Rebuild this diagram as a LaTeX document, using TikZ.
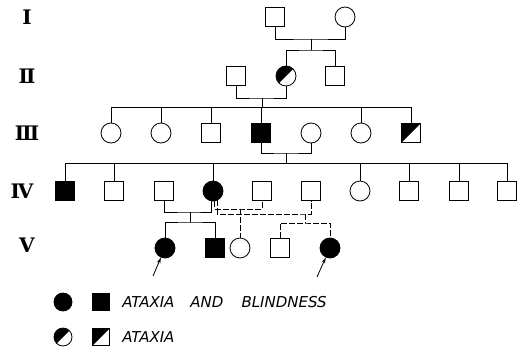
\documentclass[tikz,border=0pt]{standalone}
\usepackage{fontspec}
\newfontfamily\legfont{DejaVu Sans}
\newfontfamily\romfont{DejaVu Serif}
\usetikzlibrary{arrows.meta}
\tikzset{
  male/.style={draw,rectangle,minimum size=19pt,inner sep=0pt},
  female/.style={draw,circle,minimum size=20pt,inner sep=0pt},
  sick/.style={fill=black},
  half/.style={path picture={\fill[black] (path picture bounding box.south west) -- (path picture bounding box.north west) -- (path picture bounding box.north east) -- cycle;}},
  gen/.style={font=\romfont\bfseries\fontsize{20pt}{20pt}\selectfont},
  other/.style={dash pattern=on 6pt off 2pt},
  legtext/.style={font=\legfont\itshape\fontsize{15pt}{15pt}\selectfont,anchor=west,inner sep=0pt}
}
\begin{document}
\begin{tikzpicture}[x=1pt,y=-1pt,line width=0.8pt]
  \useasboundingbox (0,0) rectangle (527,354);
  %geracoes
  \node[gen] (gI) at (27,17) {Ⅰ};
  \node[gen] (gII) at (27,76) {Ⅱ};
  \node[gen] (gIII) at (27,133) {Ⅲ};
  \node[gen] (gIV) at (22,191) {Ⅳ};
  \node[gen] (gV) at (27,245) {Ⅴ};

  %geracao I
  \node[male] (I1) at (275,17) {};
  \node[female] (I2) at (345,17) {};
  \coordinate (mI) at (311,39);
  \coordinate (sI) at (311,50);
  \draw (I1.south) |- (mI) -| (I2.south);
  \draw (mI) -- (sI);

  %geracao II
  \node[male] (II1) at (236,76) {};
  \node[female,half] (II2) at (286,76) {};
  \node[male] (II3) at (335,76) {};
  \draw (II2.north) |- (sI) -| (II3.north);
  \coordinate (mII) at (262,98);
  \coordinate (sII) at (262,107);
  \draw (II1.south) |- (mII) -| (II2.south);
  \draw (mII) -- (sII);

  %geracao III
  \node[female] (III1) at (111,133) {};
  \node[female] (III2) at (161,133) {};
  \node[male] (III3) at (211,133) {};
  \node[male,sick] (III4) at (261,133) {};
  \node[female] (III5) at (311,133) {};
  \node[female] (III6) at (361,133) {};
  \node[male,half] (III7) at (411,133) {};
  \draw (III1.north |- sII) -- (III7.north |- sII);
  \foreach \k in {1,2,3,4,6,7}
    \draw (III\k.north) -- (III\k.north |- sII);
  \coordinate (mIII) at (286,153);
  \coordinate (sIII) at (286,163);
  \draw (III4.south) |- (mIII) -| (III5.south);
  \draw (mIII) -- (sIII);

  %geracao IV
  \node[male,sick] (IV1) at (65,191) {};
  \node[male] (IV2) at (114,191) {};
  \node[male] (IV3) at (164,191) {};
  \node[female,sick] (IV4) at (213,191) {};
  \node[male] (IV5) at (262,191) {};
  \node[male] (IV6) at (311,191) {};
  \node[female] (IV7) at (360,191) {};
  \node[male] (IV8) at (409,191) {};
  \node[male] (IV9) at (459,191) {};
  \node[male] (IV10) at (507,191) {};
  \draw (IV1.north |- sIII) -- (IV10.north |- sIII);
  \foreach \k in {1,2,4,7,8,9,10}
    \draw (IV\k.north) -- (IV\k.north |- sIII);

  %geracao V
  \node[female,sick] (V1) at (165,248) {};
  \node[male,sick] (V2) at (215,248) {};
  \node[female] (V3) at (240,248) {};
  \node[male] (V4) at (280,248) {};
  \node[female,sick] (V5) at (330,248) {};

  %casamentos de IV4
  \coordinate (mIVa) at (190,212);
  \coordinate (sIVa) at (190,222);
  \draw (IV3.south) |- (mIVa) -| (IV4.-100);
  \draw (mIVa) -- (sIVa);
  \draw (V1.north) |- (sIVa) -| (V2.north);

  \coordinate (mIVb) at (240,209);
  \draw[other] (IV4.-80) |- (mIVb) -| (IV5.south);
  \draw[other] (mIVb) -- (V3.north);

  \coordinate (mIVc) at (305,214);
  \coordinate (sIVc) at (305,223);
  \draw[other] (IV4.-65) |- (mIVc) -| (IV6.south);
  \draw[other] (mIVc) -- (sIVc);
  \draw[other] (V4.north) |- (sIVc) -| (V5.north);

  %setas
  \coordinate (p1) at (153,276);
  \coordinate (p2) at (317,277);
  \draw[-{Stealth[length=6pt,width=3.5pt]}] (p1) -- (V1);
  \draw[-{Stealth[length=6pt,width=3.5pt]}] (p2) -- (V5);

  %legenda
  \node[female,sick,minimum size=18pt] (L1) at (63,302) {};
  \node[male,sick,minimum size=17pt] (L2) at (101,302) {};
  \node[legtext] (T1) at ([xshift=12pt]L2.east) {ATAXIA\hspace{16pt}AND\hspace{18pt}BLINDNESS};
  \node[female,half,minimum size=18pt] (L3) at (63,337) {};
  \node[male,half,minimum size=17pt] (L4) at (101,337) {};
  \node[legtext] (T2) at ([xshift=12pt]L4.east) {ATAXIA};
\end{tikzpicture}
\end{document}
